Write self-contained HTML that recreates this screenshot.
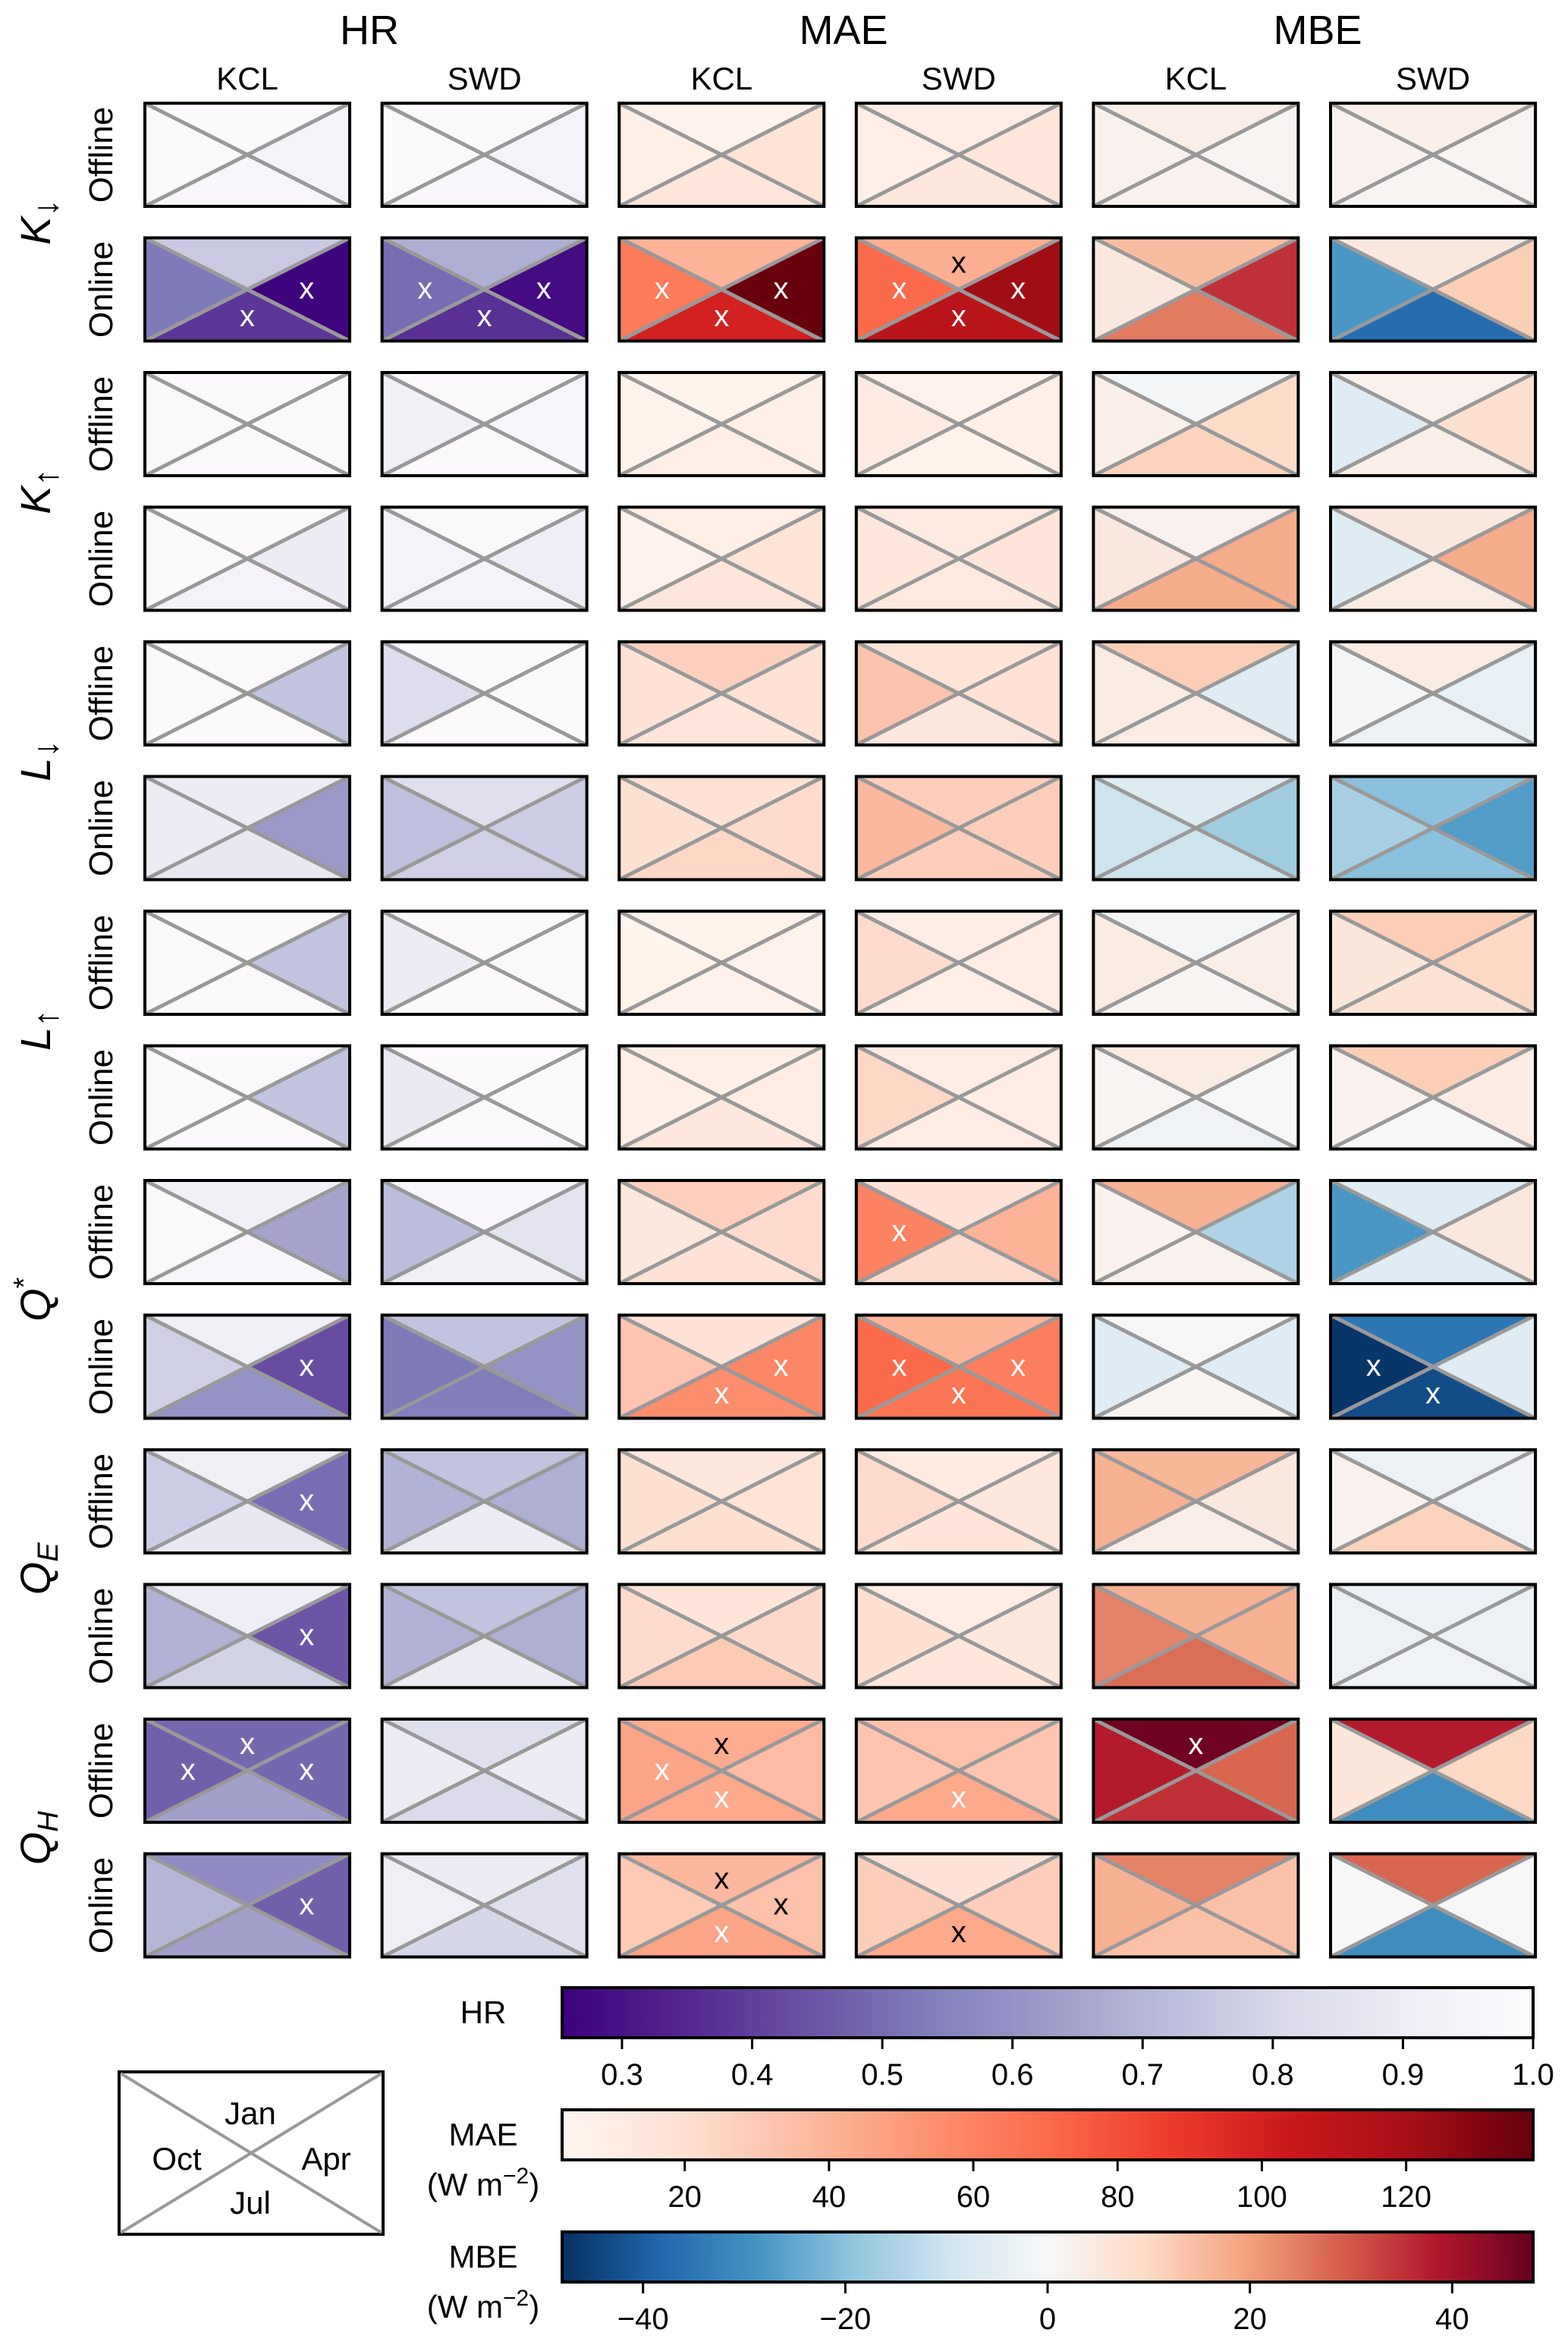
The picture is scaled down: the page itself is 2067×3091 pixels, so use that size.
<!DOCTYPE html>
<html><head><meta charset="utf-8"><style>
html,body{margin:0;padding:0;background:#fff;}
svg{display:block;font-family:"Liberation Sans",Arial,sans-serif;}
</style></head><body>
<svg id="fig" xmlns="http://www.w3.org/2000/svg" width="2067" height="3091" viewBox="0 0 2067 3091">
<defs>
<linearGradient id="gHR" x1="0" x2="1" y1="0" y2="0"></linearGradient>
<linearGradient id="gMAE" x1="0" x2="1" y1="0" y2="0"></linearGradient>
<linearGradient id="gMBE" x1="0" x2="1" y1="0" y2="0"></linearGradient>
</defs>
<g id="grid"></g>
<g font-size="54" text-anchor="middle">
<text x="487" y="58">HR</text>
<text x="1112" y="58">MAE</text>
<text x="1737" y="58">MBE</text>
</g>
<g id="subhdr" font-size="42" text-anchor="middle"></g>
<g id="rowlbl" font-size="44" text-anchor="middle"></g>
<g id="varlbl" font-size="56" font-style="italic" text-anchor="middle"></g>
<g>
<rect x="157" y="2731" width="348" height="214" fill="#fff" stroke="#000" stroke-width="4"/>
<line x1="159" y1="2733" x2="503" y2="2943" stroke="#999" stroke-width="4"/>
<line x1="159" y1="2943" x2="503" y2="2733" stroke="#999" stroke-width="4"/>
<g font-size="42" text-anchor="middle">
<text x="330" y="2800">Jan</text>
<text x="233" y="2860">Oct</text>
<text x="430" y="2860">Apr</text>
<text x="330" y="2918">Jul</text>
</g></g>
<g id="cbars"></g>
</svg>
<script>
// colour scales
const hrRange=[0.254,1.0], maeRange=[3,137.6], mbeRange=[-48,48];
const purples=["#fcfbfd","#efedf5","#dadaeb","#bcbddc","#9e9ac8","#807dba","#6a51a3","#54278f","#3f007d"];
const reds=["#fff5f0","#fee0d2","#fcbba1","#fc9272","#fb6a4a","#ef3b2c","#cb181d","#a50f15","#67000d"];
const rdbu=["#053061","#2166ac","#4393c3","#92c5de","#d1e5f0","#f7f7f7","#fddbc7","#f4a582","#d6604d","#b2182b","#67001f"];
// data: each cell [Jan(top), Apr(right), Jul(bottom), Oct(left)]
const rowNames=["Offline","Online","Offline","Online","Offline","Online","Offline","Online","Offline","Online","Offline","Online","Offline","Online"];
const hrKCL=[[0.99,0.95,0.97,0.99],[0.76,0.26,0.38,0.53],[0.99,0.99,0.99,0.99],[0.99,0.9,0.95,0.99],[0.99,0.74,0.99,0.99],[0.9,0.62,0.88,0.9],[0.99,0.74,0.99,0.99],[0.99,0.74,0.99,0.99],[0.93,0.65,0.97,0.99],[0.92,0.43,0.6,0.78],[0.92,0.5,0.88,0.77],[0.91,0.45,0.79,0.69],[0.49,0.49,0.64,0.47],[0.58,0.47,0.64,0.7]];
const hrSWD=[[0.99,0.95,0.97,0.99],[0.68,0.28,0.37,0.5],[0.99,0.97,0.99,0.93],[0.98,0.91,0.95,0.95],[0.99,0.99,0.99,0.83],[0.84,0.77,0.78,0.73],[0.99,0.98,0.99,0.9],[0.99,0.99,0.99,0.89],[0.97,0.86,0.93,0.72],[0.74,0.6,0.54,0.53],[0.74,0.68,0.9,0.69],[0.74,0.68,0.9,0.69],[0.84,0.9,0.82,0.9],[0.9,0.84,0.8,0.92]];
const maeKCL=[[6,17,15,8],[40,137,100,63],[5,8,9,5],[9,17,15,6],[27,18,15,18],[18,22,24,20],[5,6,6,5],[8,10,14,8],[27,22,18,14],[18,58,55,32],[14,17,20,20],[16,23,30,22],[43,36,44,46],[38,34,46,30]];
const maeSWD=[[10,15,14,9],[42,122,112,70],[6,8,5,12],[12,16,13,15],[17,18,14,33],[28,28,28,38],[10,10,8,22],[10,10,10,24],[18,40,22,60],[40,62,66,70],[11,14,16,22],[10,14,15,20],[34,32,44,32],[18,28,44,28]];
const mbeKCL=[[3,1,2,2],[15,35,25,5],[-1,9,11,3],[2,18,18,5],[12,-6,4,4],[-6,-17,-10,-10],[-1,3,1,4],[4,0,-2,1],[17,-15,2,2],[0,-6,1,-6],[16,5,3,17],[17,17,27,24],[47,28,35,38],[24,14,14,17]];
const mbeSWD=[[3,1,1,2],[5,12,-37,-28],[2,8,3,-6],[5,18,4,-6],[4,-4,-3,-1],[-20,-27,-20,-16],[12,10,7,6],[12,4,0,2],[-6,5,-6,-28],[-35,-6,-43,-47],[-3,-2,11,2],[-3,-3,-2,-3],[38,10,-30,6],[28,0,-30,0]];
// significance markers: [row, col, triangle(0 top,1 right,2 bottom,3 left), colour]
const markers=[[1,0,1,"w"],[1,0,2,"w"],[1,1,1,"w"],[1,1,2,"w"],[1,1,3,"w"],[1,2,1,"w"],[1,2,2,"w"],[1,2,3,"w"],[1,3,0,"k"],[1,3,1,"w"],[1,3,2,"w"],[1,3,3,"w"],
[8,3,3,"w"],[9,0,1,"w"],[9,2,1,"w"],[9,2,2,"w"],[9,3,1,"w"],[9,3,2,"w"],[9,3,3,"w"],[9,5,2,"w"],[9,5,3,"w"],
[10,0,1,"w"],[11,0,1,"w"],[12,0,0,"w"],[12,0,1,"w"],[12,0,3,"w"],[12,2,0,"k"],[12,2,2,"w"],[12,2,3,"w"],[12,3,2,"w"],[12,4,0,"w"],
[13,0,1,"w"],[13,2,0,"k"],[13,2,1,"k"],[13,2,2,"w"],[13,3,2,"k"]];
const hrTicks=[0.3,0.4,0.5,0.6,0.7,0.8,0.9,1.0];
const maeTicks=[20,40,60,80,100,120];
const mbeTicks=[-40,-20,0,20,40];

const NS="http://www.w3.org/2000/svg";
function mk(tag,attrs,parent){const e=document.createElementNS(NS,tag);for(const k in attrs)e.setAttribute(k,attrs[k]);parent.appendChild(e);return e;}
function hex(h){return [parseInt(h.slice(1,3),16),parseInt(h.slice(3,5),16),parseInt(h.slice(5,7),16)];}
function cmap(stops,t){t=Math.max(0,Math.min(1,t));const n=stops.length-1;const i=Math.min(n-1,Math.floor(t*n));const f=t*n-i;const a=hex(stops[i]),b=hex(stops[i+1]);return "rgb("+a.map((v,k)=>Math.round(v+(b[k]-v)*f)).join(",")+")";}
function cHR(v){return cmap(purples,1-(v-hrRange[0])/(hrRange[1]-hrRange[0]));}
function cMAE(v){return cmap(reds,(v-maeRange[0])/(maeRange[1]-maeRange[0]));}
function cMBE(v){return cmap(rdbu,(v-mbeRange[0])/(mbeRange[1]-mbeRange[0]));}
const cols=[[hrKCL,cHR],[hrSWD,cHR],[maeKCL,cMAE],[maeSWD,cMAE],[mbeKCL,cMBE],[mbeSWD,cMBE]];
const X0=191,CW=270,CP=312.6,Y0=136,RH=136,RP=177.5;
function colX(c){return X0+c*CP;}
function rowY(r){return Y0+r*RP;}
const grid=document.getElementById("grid");
const triNames=["jan","apr","jul","oct"];
for(let r=0;r<14;r++){for(let c=0;c<6;c++){
  const x=colX(c),y=rowY(r),cx=x+CW/2,cy=y+RH/2;
  const g=mk("g",{},grid);
  
  
  const pts=[[[x,y],[x+CW,y],[cx,cy]],[[x+CW,y],[x+CW,y+RH],[cx,cy]],[[x+CW,y+RH],[x,y+RH],[cx,cy]],[[x,y+RH],[x,y],[cx,cy]]];
  const vals=cols[c][0][r];
  for(let k=0;k<4;k++){
    const p=mk("polygon",{points:pts[k].map(q=>q.join(",")).join(" "),fill:cols[c][1](vals[k]),stroke:cols[c][1](vals[k]),"stroke-width":1},g);
    
    
  }
  mk("line",{x1:x,y1:y,x2:x+CW,y2:y+RH,stroke:"#999","stroke-width":5},g);
  mk("line",{x1:x,y1:y+RH,x2:x+CW,y2:y,stroke:"#999","stroke-width":5},g);
  mk("rect",{x:x,y:y,width:CW,height:RH,fill:"none",stroke:"#000","stroke-width":4},g);
}}
const mpos=[[0.5,0.25],[0.79,0.5],[0.5,0.77],[0.21,0.5]];
markers.forEach(m=>{
  const x=colX(m[1])+CW*mpos[m[2]][0], y=rowY(m[0])+RH*mpos[m[2]][1]+12;
  const t=mk("text",{x:x,y:y,"font-size":40,"text-anchor":"middle",fill:m[3]=="w"?"#fff":"#000"},grid);
  
  
  t.textContent="x";
});
const sub=document.getElementById("subhdr");
for(let c=0;c<6;c++){const t=mk("text",{x:colX(c)+CW/2,y:118},sub);
  
  
  t.textContent=c%2?"SWD":"KCL";}
const rl=document.getElementById("rowlbl");
for(let r=0;r<14;r++){const cy=rowY(r)+RH/2;const t=mk("text",{x:0,y:0,transform:"translate(148,"+cy+") rotate(-90)"},rl);
  
  
  t.textContent=rowNames[r];}
const vl=document.getElementById("varlbl");
const vars=[["K","↓","sub"],["K","↑","sub"],["L","↓","sub"],["L","↑","sub"],["Q","*","sup"],["Q","E","sub"],["Q","H","sub"]];
vars.forEach((v,i)=>{const cy=rowY(2*i)+RH+(RP-RH)/2;
  const t=mk("text",{transform:"translate(66,"+cy+") rotate(-90)",x:0,y:0},vl);
  
  
  const a=mk("tspan",{},t);a.textContent=v[0];
  const arrow=(v[1]=="↓"||v[1]=="↑");
  const b=mk("tspan",{"font-size":arrow?46:38,dy:v[2]=="sub"?10:-22,"font-style":(arrow||v[1]=="*")?"normal":"italic"},t);b.textContent=v[1];
});
// colourbars
function grad(id,fn,lo,hi){const g=document.getElementById(id);for(let i=0;i<=40;i++){const v=lo+(hi-lo)*i/40;mk("stop",{offset:(i/40),"stop-color":fn(v)},g);}}
grad("gHR",cHR,hrRange[0],hrRange[1]);grad("gMAE",cMAE,maeRange[0],maeRange[1]);grad("gMBE",cMBE,mbeRange[0],mbeRange[1]);
const CB0=741,CB1=2021;
const cb=document.getElementById("cbars");
function bar(name,gid,y,range,ticks,fmt,labelLines){
  const g=mk("g",{},cb);
  
  
  mk("rect",{x:CB0,y:y,width:CB1-CB0,height:66,fill:"url(#"+gid+")",stroke:"#000","stroke-width":4},g);
  ticks.forEach(v=>{const x=CB0+(v-range[0])/(range[1]-range[0])*(CB1-CB0);
    mk("line",{x1:x,y1:y+66,x2:x,y2:y+81,stroke:"#000","stroke-width":3},g);
    const t=mk("text",{x:x,y:y+128,"font-size":40,"text-anchor":"middle"},g);
    
    
    t.textContent=fmt(v);});
  labelLines.forEach((l,i)=>{const t=mk("text",{x:637,y:y+47+i*66,"font-size":42,"text-anchor":"middle"},g);
    
    
    if(l=="unit"){const a=mk("tspan",{},t);a.textContent="(W m";const b=mk("tspan",{dy:-16,"font-size":30},t);b.textContent="−2";const c=mk("tspan",{dy:16},t);c.textContent=")";}
    else t.textContent=l;});
}
bar("hr-colorbar","gHR",2620,hrRange,hrTicks,v=>v.toFixed(1),["HR"]);
bar("mae-colorbar","gMAE",2781,maeRange,maeTicks,v=>String(v),["MAE","unit"]);
bar("mbe-colorbar","gMBE",2942,mbeRange,mbeTicks,v=>String(v).replace("-","−"),["MBE","unit"]);
</script>
</body></html>
